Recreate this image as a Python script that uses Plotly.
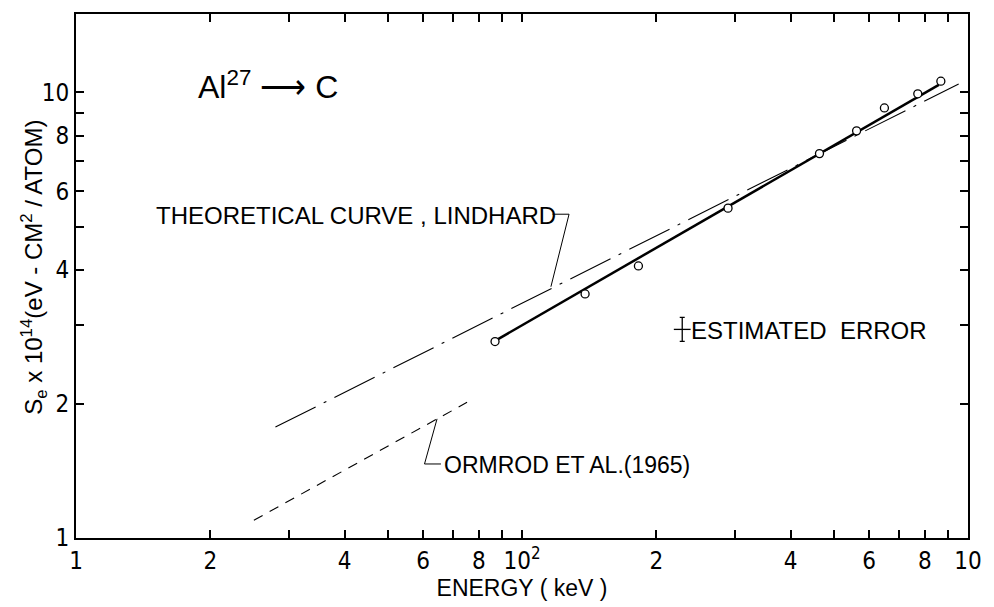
import numpy as np
import plotly.graph_objects as go

# ---- data ----
energy_keV = [87.0, 138.5, 182.4, 289.7, 464.5, 562.6, 649.5, 771.6, 869.2]
se_measured = [2.76, 3.53, 4.08, 5.50, 7.29, 8.20, 9.23, 9.93, 10.6]

fit_energy = [87.0, 860.0]
fit_se = [2.77, 10.4]

lindhard_energy = [28.0, 953.0]
lindhard_se = [1.774, 10.45]

ormrod_energy = [25.05, 75.3]
ormrod_se = [1.096, 2.016]

err_energy = [228.7]
err_se = [2.939]
err_plus = [0.187]
err_minus = [0.175]

# leader lines for labels (data coordinates)
lindhard_leader_x = [117.1, 127.5, 116.1]
lindhard_leader_y = [5.33, 5.33, 3.664]
ormrod_leader_x = [64.5, 60.45, 65.8]
ormrod_leader_y = [1.851, 1.466, 1.466]

x_tickvals = [10, 20, 30, 40, 50, 60, 70, 80, 90, 100, 200, 300, 400, 500, 600, 700, 800, 900, 1000]
x_ticktext = ["1", "2", "", "4", "", "6", "", "8", "", "10<sup>2</sup>", "2", "", "4", "", "6", "", "8", "", "10"]
y_tickvals = [1, 2, 3, 4, 5, 6, 7, 8, 9, 10]
y_ticktext = ["1", "2", "", "4", "", "6", "", "8", "", "10"]

TXT = "Liberation Sans, Arial, sans-serif"
TICKF = "Liberation Sans Narrow, DejaVu Sans Condensed, Liberation Sans, sans-serif"

fig = go.Figure()

fig.add_trace(go.Scatter(x=lindhard_energy, y=lindhard_se, mode="lines",
                         line=dict(color="black", width=1.1, dash="45px,9px,3px,9px"),
                         hoverinfo="skip"))
fig.add_trace(go.Scatter(x=ormrod_energy, y=ormrod_se, mode="lines",
                         line=dict(color="black", width=1.1, dash="10px,8px"),
                         hoverinfo="skip"))
fig.add_trace(go.Scatter(x=fit_energy, y=fit_se, mode="lines",
                         line=dict(color="black", width=2.5), hoverinfo="skip"))
fig.add_trace(go.Scatter(x=lindhard_leader_x, y=lindhard_leader_y, mode="lines",
                         line=dict(color="black", width=1), hoverinfo="skip"))
fig.add_trace(go.Scatter(x=ormrod_leader_x, y=ormrod_leader_y, mode="lines",
                         line=dict(color="black", width=1), hoverinfo="skip"))
fig.add_trace(go.Scatter(x=energy_keV, y=se_measured, mode="markers",
                         marker=dict(symbol="circle", size=8, color="white",
                                     line=dict(color="black", width=1.3))))
fig.add_trace(go.Scatter(x=err_energy, y=err_se, mode="markers",
                         marker=dict(symbol="line-ew", size=12, color="black",
                                     line=dict(color="black", width=1.3)),
                         error_y=dict(type="data", symmetric=False, array=err_plus,
                                      arrayminus=err_minus, color="black",
                                      thickness=1.3, width=2.5)))

axis_common = dict(showline=True, linecolor="black", linewidth=2, mirror="ticks",
                   ticks="inside", ticklen=8, tickwidth=2, tickcolor="black",
                   showgrid=False, zeroline=False,
                   tickfont=dict(family=TICKF, size=24, color="black"))

fig.update_xaxes(type="log", range=[1, 3], tickmode="array",
                 tickvals=x_tickvals, ticktext=x_ticktext,
                 title=dict(text="ENERGY ( keV )", font=dict(family=TXT, size=23, color="black"),
                            standoff=4),
                 **axis_common)
fig.update_yaxes(type="log", range=[0, np.log10(15)], tickmode="array",
                 tickvals=y_tickvals, ticktext=y_ticktext, **axis_common)

W, H = 994, 607
L, R, T, B = 76, 982, 12, 542
def px(x):
    return (x - L) / (R - L)
def py(y):
    return (B - y) / (B - T)

ann = [
    dict(text="Al<sup>27</sup> ⟶ C", x=px(198), y=py(84), xanchor="left", yanchor="middle",
         font=dict(family=TXT, size=32, color="black")),
    dict(text="THEORETICAL CURVE , LINDHARD", x=px(155), y=py(216), xanchor="left", yanchor="middle",
         font=dict(family=TXT, size=24, color="black")),
    dict(text="ORMROD ET AL.(1965)", x=px(448), y=py(468), xanchor="left", yanchor="middle",
         font=dict(family=TXT, size=23, color="black")),
    dict(text="ESTIMATED  ERROR", x=px(699), y=py(332), xanchor="left", yanchor="middle",
         font=dict(family=TXT, size=24, color="black")),
    dict(text="S<sub>e</sub> x 10<sup>14</sup>(eV - CM<sup>2</sup> / ATOM)", x=px(33), y=py(268),
         xanchor="center", yanchor="middle", textangle=-90,
         font=dict(family=TXT, size=24, color="black")),
]
for a in ann:
    a.update(xref="paper", yref="paper", showarrow=False)

fig.update_layout(width=W, height=H, margin=dict(l=L, r=W - R, t=T, b=H - B),
                  paper_bgcolor="white", plot_bgcolor="white", showlegend=False,
                  annotations=ann)

fig.write_html("out.html")
